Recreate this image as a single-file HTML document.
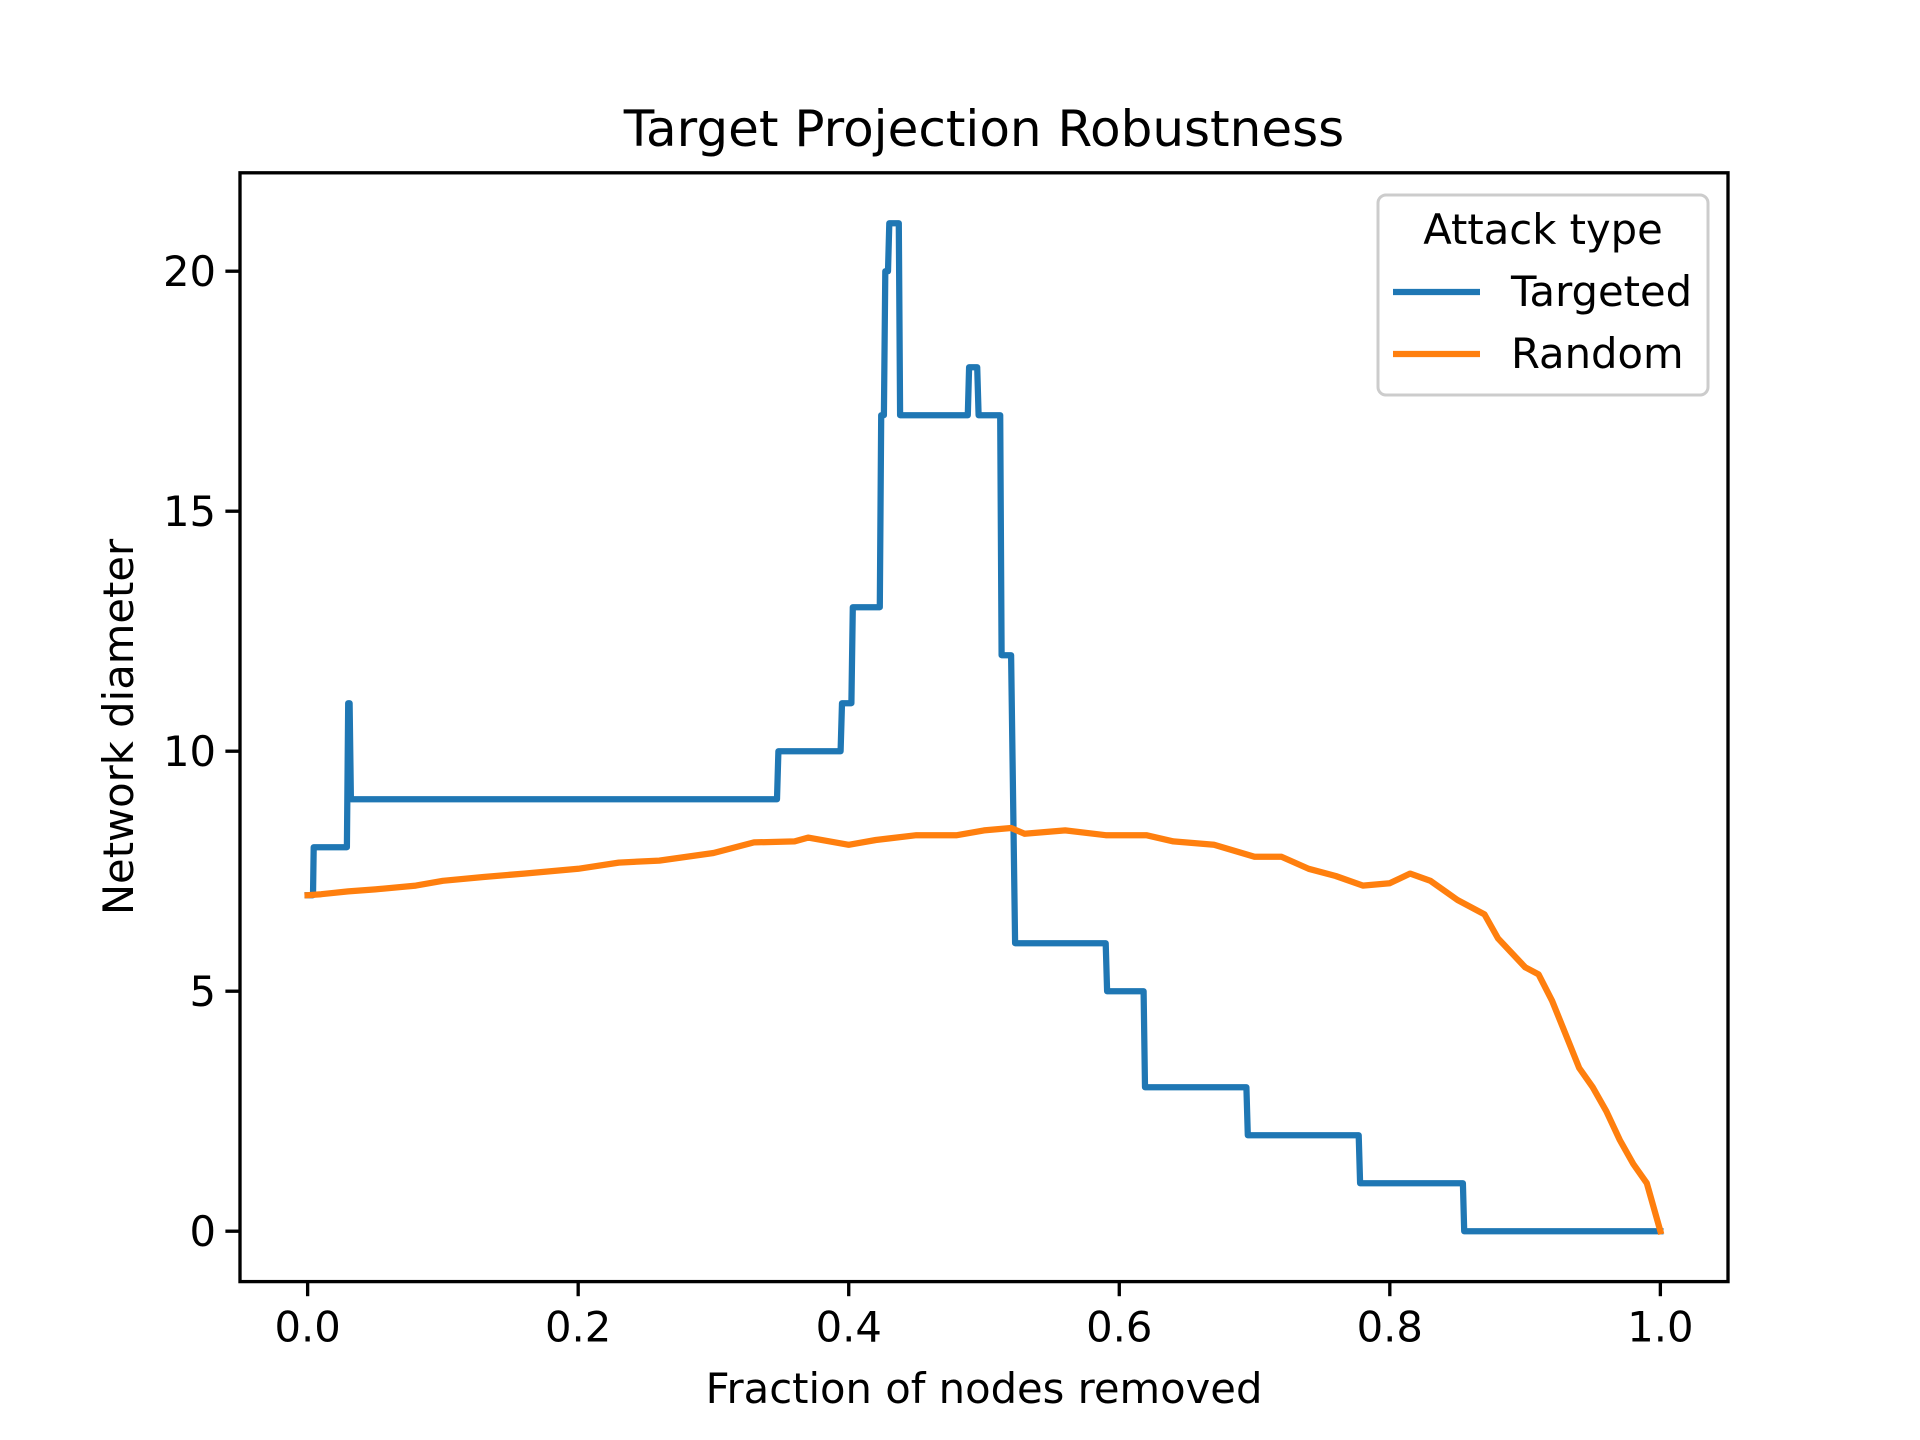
<!DOCTYPE html>
<html><head><meta charset="utf-8"><style>
html,body{margin:0;padding:0;background:#fff;}
svg{display:block;font-family:"DejaVu Sans","Liberation Sans",sans-serif;}
</style></head><body>
<svg id="chart" width="1920" height="1440" viewBox="0 0 1920 1440" xmlns="http://www.w3.org/2000/svg">
<rect width="1920" height="1440" fill="#fff"/>
<g id="plot"></g>
<text x="984" y="146" font-size="50" text-anchor="middle">Target Projection Robustness</text>
<text x="984" y="1403" font-size="41.7" text-anchor="middle">Fraction of nodes removed</text>
<text transform="translate(133,727) rotate(-90)" font-size="41.7" text-anchor="middle">Network diameter</text>
<g>
<rect x="1378" y="195" width="330" height="200" rx="8" fill="#fff" fill-opacity="0.8" stroke="#ccc" stroke-width="3"/>
<text x="1543" y="244" font-size="41.7" text-anchor="middle">Attack type</text>
<line x1="1393" y1="292" x2="1480" y2="292" stroke="#1f77b4" stroke-width="6.25"/>
<text x="1511" y="306" font-size="41.7">Targeted</text>
<line x1="1393" y1="354" x2="1480" y2="354" stroke="#ff7f0e" stroke-width="6.25"/>
<text x="1511" y="368" font-size="41.7">Random</text>
</g>
</svg>
<script>
const targetedX=[0,0.004,0.0045,0.029,0.030,0.031,0.032,0.347,0.348,0.394,0.395,0.402,0.403,0.423,0.424,0.426,0.427,0.429,0.430,0.433,0.434,0.437,0.438,0.488,0.489,0.495,0.496,0.512,0.513,0.520,0.523,0.590,0.591,0.618,0.619,0.694,0.695,0.777,0.778,0.854,0.855,1.0];
const targetedY=[7,7,8,8,11,11,9,9,10,10,11,11,13,13,17,17,20,20,21,21,21,21,17,17,18,18,17,17,12,12,6,6,5,5,3,3,2,2,1,1,0,0];
const randomX=[0,0.01,0.03,0.05,0.08,0.1,0.13,0.16,0.2,0.23,0.26,0.3,0.33,0.36,0.37,0.4,0.42,0.45,0.48,0.5,0.52,0.53,0.56,0.59,0.62,0.64,0.67,0.7,0.72,0.74,0.76,0.78,0.8,0.815,0.83,0.85,0.87,0.88,0.9,0.91,0.92,0.93,0.94,0.95,0.96,0.97,0.98,0.99,1.0];
const randomY=[7,7.02,7.08,7.12,7.2,7.3,7.38,7.45,7.55,7.68,7.72,7.88,8.1,8.12,8.2,8.05,8.15,8.25,8.25,8.35,8.4,8.28,8.35,8.25,8.25,8.12,8.05,7.8,7.8,7.55,7.4,7.2,7.25,7.45,7.3,6.9,6.6,6.1,5.5,5.35,4.8,4.1,3.4,3.0,2.5,1.9,1.4,1.0,0];
const xTicks=[0,0.2,0.4,0.6,0.8,1.0];
const xTickLabels=["0.0","0.2","0.4","0.6","0.8","1.0"];
const yTicks=[0,5,10,15,20];
const yTickLabels=["0","5","10","15","20"];

const L=240,R=1728,T=172.8,B=1281.6;
const xmin=-0.05,xmax=1.05,ymin=-1.05,ymax=22.05;
const sx=v=>L+(v-xmin)/(xmax-xmin)*(R-L);
const sy=v=>B-(v-ymin)/(ymax-ymin)*(B-T);
const NS="http://www.w3.org/2000/svg";
const g=document.getElementById('plot');
function mk(tag,attrs){const e=document.createElementNS(NS,tag);for(const k in attrs)e.setAttribute(k,attrs[k]);g.appendChild(e);return e;}
function path(xs,ys,color,name){
  let d=xs.map((x,i)=>(i?'L':'M')+sx(x).toFixed(1)+' '+sy(ys[i]).toFixed(1)).join(' ');
  const p=mk('path',{d:d,fill:'none',stroke:color,'stroke-width':6.25,'stroke-linejoin':'round','stroke-linecap':'square'});
  
  
}
path(targetedX,targetedY,'#1f77b4','targeted-series');
path(randomX,randomY,'#ff7f0e','random-series');
const frame=mk('rect',{x:L,y:T,width:R-L,height:B-T,fill:'none',stroke:'#000','stroke-width':3.33});


xTicks.forEach((v,i)=>{
  const t=mk('line',{x1:sx(v),y1:B,x2:sx(v),y2:B+14.6,stroke:'#000','stroke-width':3.33});
  
  
  const l=mk('text',{x:sx(v),y:B+60,'font-size':41.7,'text-anchor':'middle'});
  l.textContent=xTickLabels[i];
  
  
});
yTicks.forEach((v,i)=>{
  const t=mk('line',{x1:L-14.6,y1:sy(v),x2:L,y2:sy(v),stroke:'#000','stroke-width':3.33});
  
  
  const l=mk('text',{x:L-24,y:sy(v)+15,'font-size':41.7,'text-anchor':'end'});
  l.textContent=yTickLabels[i];
  
  
});
</script>
</body></html>
